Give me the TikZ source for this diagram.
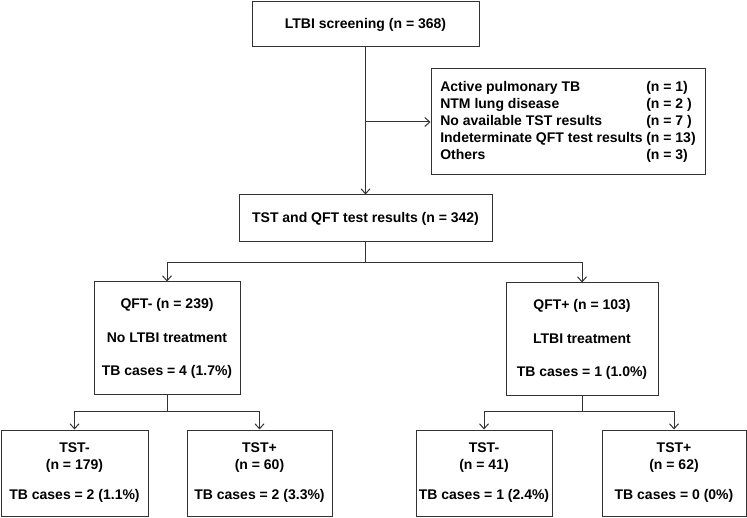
\documentclass[tikz,border=0pt]{standalone}
\usepackage{fontspec}
\setmainfont{Liberation Sans}
\usetikzlibrary{arrows.meta}
\begin{document}
\begin{tikzpicture}[x=1pt,y=-1pt,
  box/.style={draw=black!80, line width=1pt, rectangle, inner sep=0pt, align=center,
    font=\fontsize{14}{16.5}\bfseries\selectfont},
  conn/.style={draw=black!80, line width=1pt},
  arr/.style={conn, -{Straight Barb[length=5pt,width=9pt,line width=1pt]}}]
\useasboundingbox (0,0) rectangle (747,518);
\node[box, minimum width=227pt, minimum height=45pt] (top) at (365.5,24.5) {LTBI screening (n = 368)};
\node[box, minimum width=274pt, minimum height=106pt, font=\fontsize{14}{16.7}\bfseries\selectfont] (excl) at (568,122)
  {\begin{tabular}{@{}p{206pt}@{}l@{}}
   Active pulmonary TB & (n = 1)\\[0.2pt]
   NTM lung disease & (n = 2 )\\[0.2pt]
   No available TST results & (n = 7 )\\[0.2pt]
   Indeterminate QFT test results & (n = 13)\\[0.2pt]
   Others & (n = 3)
   \end{tabular}};
\node[box, minimum width=253pt, minimum height=47pt] (tst) at (365.5,218.5) {TST and QFT test results (n = 342)};
\node[box, minimum width=146pt, minimum height=113pt] (qn) at (167,338.5)
  {QFT- (n = 239)\\[17pt] No LTBI treatment\\[17pt] TB cases = 4 (1.7\%)};
\node[box, minimum width=152pt, minimum height=113pt] (qp) at (582,339.5)
  {QFT+ (n = 103)\\[17pt] LTBI treatment\\[17pt] TB cases = 1 (1.0\%)};
\node[box, minimum width=147pt, minimum height=86pt] (b1) at (74.5,473)
  {TST-\\(n = 179)\\[14pt] TB cases = 2 (1.1\%)};
\node[box, minimum width=145pt, minimum height=86pt] (b2) at (259.5,473)
  {TST+\\(n = 60)\\[14pt] TB cases = 2 (3.3\%)};
\node[box, minimum width=136pt, minimum height=86pt] (b3) at (484,473)
  {TST-\\(n = 41)\\[14pt] TB cases = 1 (2.4\%)};
\node[box, minimum width=144pt, minimum height=86pt] (b4) at (674,473)
  {TST+\\(n = 62)\\[14pt] TB cases = 0 (0\%)};
\coordinate (j0) at (top.south |- excl.west);
\coordinate (j1) at (365.5,263);
\coordinate (j2) at (167,412);
\coordinate (j3) at (582,412);
\draw[arr] (top.south) -- (tst.north);
\draw[arr] (j0) -- (excl.west);
\draw[conn] (tst.south) -- (j1);
\draw[arr] (j1) -| (qn.north);
\draw[arr] (j1) -| (qp.north);
\draw[conn] (qn.south) -- (j2);
\draw[arr] (j2) -| (b1.north);
\draw[arr] (j2) -| (b2.north);
\draw[conn] (qp.south) -- (j3);
\draw[arr] (j3) -| (b3.north);
\draw[arr] (j3) -| (b4.north);
\end{tikzpicture}
\end{document}
